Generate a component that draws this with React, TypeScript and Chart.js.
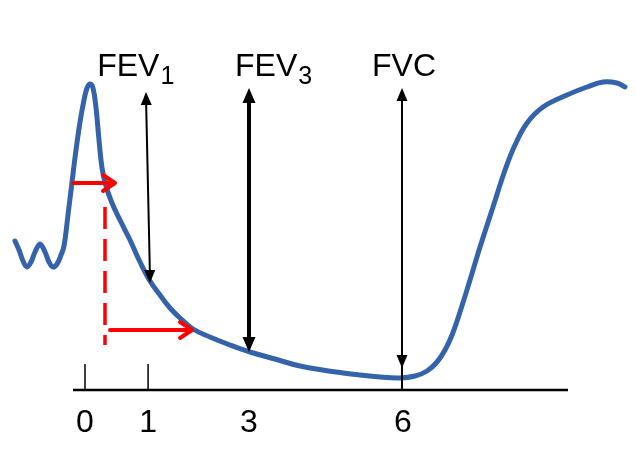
import React, { useEffect, useRef } from "react";
import { Chart, registerables } from "chart.js";

Chart.register(...registerables);

// Blue spirometry trace: time (s) and volume (arbitrary units)
const curveX = [
  -1.321, -1.245, -1.17, -1.094, -1.019, -0.943, -0.849, -0.755, -0.679, -0.604,
  -0.528, -0.453, -0.396, -0.321,
  -0.245, -0.17, -0.094, -0.019, 0.038, 0.094, 0.151, 0.208, 0.264, 0.321,
  0.396, 0.509, 0.66, 0.849, 1.038, 1.226, 1.415, 1.604, 1.792, 2.038,
  2.358, 2.736, 3.113, 3.585, 4.057, 4.868, 5.566, 5.943, 6.226, 6.453,
  6.642, 6.792, 6.925, 7.075, 7.264, 7.453, 7.698, 7.925, 8.113, 8.34,
  8.642, 9.094, 9.472, 9.774, 10.038, 10.189,
];
const curveY = [
  37.25, 35, 32.25, 30.75, 32, 34.5, 36.5, 34.5, 32, 30.75,
  31.5, 33.75, 36, 43.75,
  52, 60, 67, 72.5, 75.5, 76.5, 75.5, 70.5, 62.5, 55.5,
  51, 46.75, 42.5, 37.5, 32, 27.25, 23.75, 20.5, 18, 15.25,
  13.25, 11.25, 9.5, 7.75, 6, 4.25, 3.25, 3, 3.5, 4.75,
  7, 10, 13.75, 19.5, 27.5, 35.75, 45.75, 55, 61.25, 66.75,
  70.75, 73.75, 75.75, 77, 76.75, 75.75,
];

// X axis
const axisStart = -0.226;
const axisEnd = 9.113;
const tickLabels = ["0", "1", "3", "6"];
const tickPositions = [0, 1.19, 3.09, 6.0];
const tickMarkPositions = [0, 1.19];
const tickMarkHeight = 6.5;
const tickLabelBaseline = -10.5;

// Measurement labels
const labelMain = ["FEV", "FEV", "FVC"];
const labelSub = ["1", "3", ""];
const labelX = [0.23, 2.83, 5.415];
const labelBaseline = 78.5;

// Black double arrows: top and bottom tips
const blackArrowXTop = [1.151, 3.094, 5.981];
const blackArrowYTop = [74.5, 75.5, 75.5];
const blackArrowXBottom = [1.226, 3.094, 5.981];
const blackArrowYBottom = [26.75, 9.5, 5.5];
const blackArrowWidth = [2, 4, 2];
const blackArrowExtendTo = [null, null, 0];

// Red arrows
const redArrowX1 = [-0.226, 0.472];
const redArrowX2 = [0.566, 2.019];
const redArrowY = [51.75, 15];
const redDashX = 0.377;
const redDashYTop = 45.75;
const redDashYBottom = 11.25;

const BLUE = "#3563AA";
const RED = "#FF0000";
const FONT = '"Liberation Sans", Arial, sans-serif';

const overlayPlugin = {
  id: "spiroOverlay",
  afterDatasetsDraw(chart: any) {
    const ctx = chart.ctx as CanvasRenderingContext2D;
    const xs = chart.scales.x;
    const ys = chart.scales.y;
    const px = (v: number) => xs.getPixelForValue(v);
    const py = (v: number) => ys.getPixelForValue(v);

    ctx.save();

    // tick marks
    ctx.strokeStyle = "#000";
    ctx.lineWidth = 1.5;
    tickMarkPositions.forEach((t) => {
      ctx.beginPath();
      ctx.moveTo(px(t), py(0));
      ctx.lineTo(px(t), py(tickMarkHeight));
      ctx.stroke();
    });

    // tick labels
    ctx.fillStyle = "#000";
    ctx.font = `32px ${FONT}`;
    ctx.textAlign = "center";
    ctx.textBaseline = "alphabetic";
    tickLabels.forEach((lab, i) => {
      ctx.fillText(lab, px(tickPositions[i]), py(tickLabelBaseline));
    });

    // measurement labels
    ctx.textAlign = "left";
    labelMain.forEach((m, i) => {
      ctx.font = `32px ${FONT}`;
      const x0 = px(labelX[i]);
      const b = py(labelBaseline);
      ctx.fillText(m, x0, b);
      const w = ctx.measureText(m).width;
      if (labelSub[i]) {
        ctx.font = `25px ${FONT}`;
        ctx.fillText(labelSub[i], x0 + w + 1, b + 8);
      }
    });

    // black double arrows
    const filledHead = (xt: number, yt: number, xf: number, yf: number, len: number, half: number) => {
      const ang = Math.atan2(yt - yf, xt - xf);
      ctx.beginPath();
      ctx.moveTo(xt, yt);
      ctx.lineTo(xt - len * Math.cos(ang) + half * Math.sin(ang), yt - len * Math.sin(ang) - half * Math.cos(ang));
      ctx.lineTo(xt - len * Math.cos(ang) - half * Math.sin(ang), yt - len * Math.sin(ang) + half * Math.cos(ang));
      ctx.closePath();
      ctx.fill();
    };
    blackArrowXTop.forEach((_, i) => {
      const x1 = px(blackArrowXTop[i]);
      const y1 = py(blackArrowYTop[i]);
      const x2 = px(blackArrowXBottom[i]);
      const y2 = py(blackArrowYBottom[i]);
      const lw = blackArrowWidth[i];
      ctx.strokeStyle = "#000";
      ctx.fillStyle = "#000";
      ctx.lineWidth = lw;
      ctx.beginPath();
      ctx.moveTo(x1, y1 + 6);
      const ext = blackArrowExtendTo[i];
      if (ext !== null) {
        ctx.lineTo(x2, py(ext as number));
      } else {
        ctx.lineTo(x2, y2 - 6);
      }
      ctx.stroke();
      const hl = lw > 3 ? 15 : 13;
      const hw = lw > 3 ? 6.5 : 5.5;
      filledHead(x1, y1, x2, y2, hl, hw);
      filledHead(x2, y2, x1, y1, hl, hw);
    });

    // red dashed vertical
    ctx.strokeStyle = RED;
    ctx.lineWidth = 3.5;
    ctx.setLineDash([22, 10]);
    ctx.beginPath();
    ctx.moveTo(px(redDashX), py(redDashYTop));
    ctx.lineTo(px(redDashX), py(redDashYBottom));
    ctx.stroke();
    ctx.setLineDash([]);

    // red arrows
    ctx.lineWidth = 4;
    ctx.lineCap = "round";
    ctx.lineJoin = "round";
    redArrowX1.forEach((_, i) => {
      const x1 = px(redArrowX1[i]);
      const x2 = px(redArrowX2[i]);
      const y = py(redArrowY[i]);
      ctx.beginPath();
      ctx.moveTo(x1, y);
      ctx.lineTo(x2 - 1, y);
      ctx.stroke();
      ctx.beginPath();
      ctx.moveTo(x2 - 12, y - 8);
      ctx.lineTo(x2, y);
      ctx.lineTo(x2 - 12, y + 8);
      ctx.stroke();
    });

    ctx.restore();
  },
};

export default function App() {
  const ref = useRef<HTMLCanvasElement | null>(null);

  useEffect(() => {
    document.body.style.margin = "0";
    const canvas = ref.current;
    if (!canvas) return;
    const chart = new Chart(canvas, {
      type: "line",
      data: {
        datasets: [
          {
            data: [
              { x: axisStart, y: 0 },
              { x: axisEnd, y: 0 },
            ],
            borderColor: "#000",
            borderWidth: 2.5,
            pointRadius: 0,
            tension: 0,
          },
          {
            data: curveX.map((x, i) => ({ x, y: curveY[i] })),
            borderColor: BLUE,
            borderWidth: 5,
            pointRadius: 0,
            tension: 0.4,
            borderCapStyle: "round",
            borderJoinStyle: "round",
          },
        ],
      },
      options: {
        animation: false,
        responsive: false,
        maintainAspectRatio: false,
        layout: { padding: 0 },
        plugins: {
          legend: { display: false },
          tooltip: { enabled: false },
          title: { display: false },
        },
        scales: {
          x: { type: "linear", min: -1.604, max: 10.396, display: false },
          y: { type: "linear", min: -18, max: 97.5, display: false },
        },
      },
      plugins: [overlayPlugin],
    });
    return () => chart.destroy();
  }, []);

  return (
    <div style={{ width: 636, height: 462, background: "#fff" }}>
      <canvas ref={ref} width={636} height={462} />
    </div>
  );
}
